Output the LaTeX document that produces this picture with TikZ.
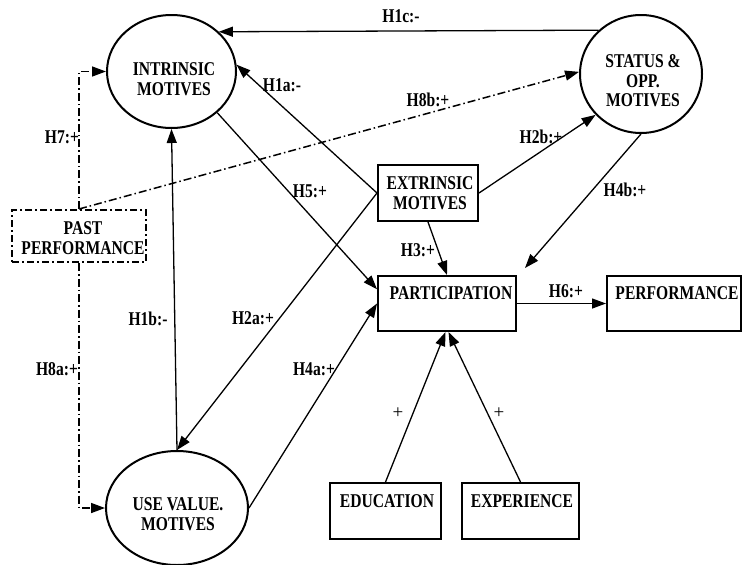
\documentclass[tikz,border=0pt]{standalone}
\usepackage{fontspec}
\setmainfont[FakeStretch=0.8]{Liberation Serif}
\newfontfamily\plusfont{Liberation Serif}
\usetikzlibrary{arrows.meta,calc,shapes.geometric}
\begin{document}
\begin{tikzpicture}[x=1pt,y=-1pt,
  ell/.style={draw,line width=2pt,ellipse,inner sep=0pt},
  box/.style={draw,line width=2pt,rectangle,inner sep=0pt},
  dbox/.style={draw,line width=2pt,rectangle,inner sep=0pt,dash pattern=on 7pt off 3pt on 2pt off 3pt},
  txt/.style={inner sep=0pt,align=center,font=\fontsize{19.5}{19.5}\selectfont\bfseries},
  lab/.style={inner sep=0pt,font=\fontsize{19.5}{19.5}\selectfont\bfseries},
  plab/.style={inner sep=0pt,font=\plusfont\fontsize{19}{19}\selectfont},
  arr/.style={line width=1.3pt,-{Triangle[length=14pt,width=10pt]}},
  darr/.style={line width=1.5pt,dash pattern=on 8pt off 3pt on 1.5pt off 3pt,-{Triangle[length=14pt,width=10pt]}}
]
\useasboundingbox (0,0) rectangle (742,565);
% shapes
\node[ell,minimum width=129pt,minimum height=113pt] (intr) at (171.5,71.5) {};
\node[ell,minimum width=122pt,minimum height=118pt] (stat) at (641,74) {};
\node[ell,minimum width=142pt,minimum height=114pt] (use) at (177,508) {};
\node[box,minimum width=100pt,minimum height=56pt] (ext) at (428,193) {};
\node[box,minimum width=138pt,minimum height=55pt] (part) at (447,303.5) {};
\node[box,minimum width=134pt,minimum height=55pt] (perf) at (674,303.5) {};
\node[dbox,minimum width=134pt,minimum height=52pt] (past) at (79,236) {};
\node[box,minimum width=111pt,minimum height=56pt] (edu) at (385.5,511) {};
\node[box,minimum width=117pt,minimum height=56pt] (exp) at (520.5,511) {};
% texts
\node[txt] (tintr) at (174,79) {INTRINSIC\\MOTIVES};
\node[txt] (tstat) at (643,81) {STATUS \&\\OPP.\\MOTIVES};
\node[txt] (tuse) at (178,514) {USE VALUE.\\MOTIVES};
\node[txt] (text) at (430,193) {EXTRINSIC\\MOTIVES};
\node[txt] (tpart) at (451,293.5) {PARTICIPATION};
\node[txt] (tperf) at (677,293.5) {PERFORMANCE};
\node[txt] (tpast) at (83,238) {PAST\\PERFORMANCE};
\node[txt] (tedu) at (387,501) {EDUCATION};
\node[txt] (texp) at (522,501) {EXPERIENCE};
% coordinates
\coordinate (h4bend) at (525,268);
\coordinate (part5) at ($(part.north west)!0.25!(part.south west)$);
% connectors
\draw[arr] (stat.134) -- (intr.40);
\draw[arr] (ext.west) -- (intr.6);
\draw[arr] (intr.-42) -- (part5);
\draw[arr] (ext.west) -- (use.north);
\draw[arr] (use.north) -- (intr.south);
\draw[arr] (use.east) -- (part.west);
\draw[arr] (ext.east) -- (stat.222);
\draw[arr] (stat.south) -- (h4bend);
\draw[arr] (ext.south) -- (part.north);
\draw[arr] (part.east) -- (perf.west);
\draw[arr] (edu.north) -- ($(part.south)+(-1.5,0)$);
\draw[arr] (exp.north) -- ($(part.south)+(1.5,0)$);
\draw[darr] (past.north) |- (intr.west);
\draw[darr] (past.south) |- (use.west);
\draw[darr] (past.north) -- (stat.178);
% labels
\node[lab] (l1c) at (401,16) {H1c:-};
\node[lab] (l7) at (62,137) {H7:+};
\node[lab] (l8a) at (57,369) {H8a:+};
\node[lab] (l8b) at (428,100) {H8b:+};
\node[lab] (l1a) at (282,85) {H1a:-};
\node[lab] (l5) at (310,191) {H5:+};
\node[lab] (l2a) at (253,318) {H2a:+};
\node[lab] (l1b) at (148,319) {H1b:-};
\node[lab] (l4a) at (314,369) {H4a:+};
\node[lab] (l2b) at (541,137) {H2b:+};
\node[lab] (l4b) at (625,190) {H4b:+};
\node[lab] (l3) at (418,250) {H3:+};
\node[lab] (l6) at (566,291) {H6:+};
\node[plab] (pe) at (398,413) {+};
\node[plab] (px) at (499,413) {+};
\end{tikzpicture}
\end{document}
